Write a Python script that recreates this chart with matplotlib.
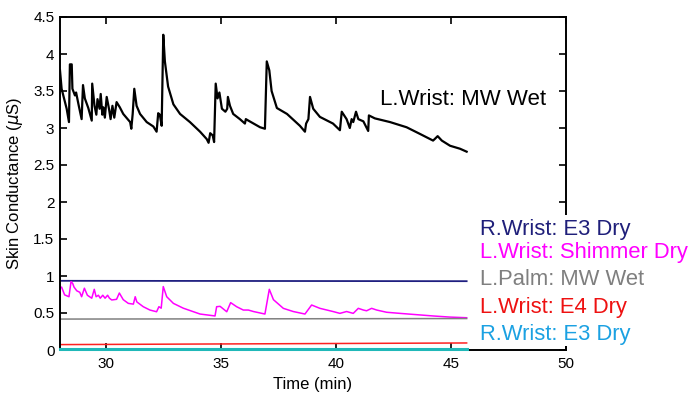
import numpy as np
import matplotlib.pyplot as plt
from matplotlib.patches import Rectangle

plt.rcParams['font.family'] = ['Liberation Sans', 'DejaVu Sans']

# L.Wrist: MW Wet (black)
t_mw = [28.0, 28.07, 28.29, 28.39, 28.43, 28.51, 28.54, 28.65, 28.7, 28.81, 28.94, 29.0,
        29.08, 29.23, 29.38, 29.4, 29.5, 29.58, 29.63, 29.72, 29.77, 29.84, 29.88, 29.95,
        30.03, 30.13, 30.2, 30.28, 30.36, 30.46, 30.6, 30.75, 30.94, 31.05, 31.1, 31.16,
        31.23, 31.33, 31.48, 31.77, 32.06, 32.2, 32.27, 32.34, 32.42, 32.49, 32.56, 32.7,
        32.93, 33.22, 33.65, 34.09, 34.38, 34.46, 34.53, 34.64, 34.7, 34.77, 34.85, 34.93,
        35.04, 35.19, 35.27, 35.3, 35.39, 35.53, 35.82, 36.04, 36.08, 36.19, 36.7, 36.91,
        36.99, 37.1, 37.2, 37.43, 37.87, 38.43, 38.65, 38.7, 38.8, 38.87, 39.01, 39.3,
        39.87, 40.17, 40.25, 40.46, 40.6, 40.68, 40.75, 40.87, 40.97, 41.19, 41.4, 41.43,
        41.69, 42.35, 43.07, 43.65, 44.22, 44.29, 44.42, 44.6, 44.96, 45.39, 45.68]
v_mw = [3.78, 3.53, 3.26, 3.08, 3.86, 3.86, 3.53, 3.44, 3.48, 3.31, 3.12, 3.58,
        3.4, 3.27, 3.10, 3.60, 3.3, 3.18, 3.39, 3.26, 3.46, 3.18, 3.28, 3.14,
        3.42, 3.26, 3.12, 3.30, 3.14, 3.35, 3.28, 3.19, 3.12, 3.08, 2.99, 3.19,
        3.53, 3.3, 3.19, 3.08, 3.02, 2.95, 3.20, 3.18, 3.03, 4.26, 3.9, 3.56,
        3.32, 3.19, 3.08, 2.95, 2.85, 2.8, 2.93, 2.9, 2.81, 3.6, 3.4, 3.48,
        3.26, 3.22, 3.26, 3.42, 3.3, 3.19, 3.12, 3.06, 3.12, 3.1, 3.01, 2.99,
        3.9, 3.78, 3.5, 3.27, 3.19, 3.03, 2.95, 3.06, 3.12, 3.42, 3.26, 3.15,
        3.06, 2.97, 3.22, 3.12, 3.0, 3.12, 3.08, 3.22, 3.12, 3.09, 2.96, 3.17,
        3.13, 3.08, 3.01, 2.92, 2.83, 2.85, 2.89, 2.83, 2.76, 2.72, 2.68]

# L.Wrist: Shimmer Dry (magenta)
t_sh = [28.0, 28.07, 28.2, 28.39, 28.48, 28.55, 28.61, 28.73, 28.86, 28.94, 29.06, 29.19,
        29.38, 29.49, 29.57, 29.67, 29.75, 29.86, 29.96, 30.07, 30.15, 30.25, 30.46, 30.58,
        30.75, 30.97, 31.19, 31.27, 31.34, 31.62, 31.91, 32.2, 32.3, 32.4, 32.49, 32.64,
        32.93, 33.36, 34.09, 34.74, 34.81, 34.96, 35.25, 35.42, 35.68, 35.97, 36.19, 36.41,
        36.91, 37.1, 37.28, 37.71, 38.14, 38.65, 38.94, 39.3, 39.87, 40.17, 40.46, 40.75,
        40.97, 41.19, 41.33, 41.55, 41.77, 42.2, 42.78, 44.22, 44.94, 45.68]
v_sh = [0.835, 0.85, 0.745, 0.72, 0.925, 0.9, 0.85, 0.8, 0.78, 0.72, 0.835, 0.74,
        0.70, 0.82, 0.72, 0.74, 0.70, 0.74, 0.70, 0.74, 0.70, 0.676, 0.685, 0.77,
        0.68, 0.63, 0.62, 0.72, 0.65, 0.585, 0.54, 0.517, 0.585, 0.565, 0.857, 0.72,
        0.63, 0.565, 0.486, 0.46, 0.585, 0.59, 0.517, 0.64, 0.585, 0.54, 0.54, 0.52,
        0.486, 0.82, 0.68, 0.563, 0.52, 0.486, 0.608, 0.563, 0.52, 0.495, 0.52, 0.495,
        0.563, 0.54, 0.53, 0.563, 0.54, 0.51, 0.495, 0.46, 0.445, 0.436]

# flat channels: start / end values
t_flat = [28.0, 45.68]
v_e3_left = [0.935, 0.93]     # R.Wrist: E3 Dry (navy)
v_palm = [0.418, 0.425]       # L.Palm: MW Wet (grey)
v_e4 = [0.073, 0.095]         # L.Wrist: E4 Dry (red)
v_e3_right = [0.01, 0.01]     # R.Wrist: E3 Dry (cyan)

labels = ['R.Wrist: E3 Dry', 'L.Wrist: Shimmer Dry', 'L.Palm: MW Wet',
          'L.Wrist: E4 Dry', 'R.Wrist: E3 Dry']
label_y = [1.56, 1.243, 0.88, 0.495, 0.132]
label_colors = ['#1f1f7a', '#ff00ff', '#7f7f7f', '#ee1111', '#1ba1e2']

fig = plt.figure(figsize=(6.89, 3.98), dpi=100)
ax = fig.add_axes([60 / 689, 1 - 350 / 398, 506 / 689, 333 / 398])

ax.plot(t_mw, v_mw, color='black', lw=1.6)
ax.plot(t_flat, v_e3_left, color='#1f1f80', lw=1.3)
ax.plot(t_sh, v_sh, color='#ff00ff', lw=1.1)
ax.plot(t_flat, v_palm, color='#808080', lw=1.1)
ax.plot(t_flat, v_e4, color='#ff2020', lw=1.1)
ax.plot(t_flat, v_e3_right, color='#20b8b8', lw=2.2, zorder=4, clip_on=False)

ax.set_xlim(28, 50)
ax.set_ylim(0, 4.5)
ax.set_xticks([30, 35, 40, 45, 50])
ax.set_yticks(np.arange(0, 4.51, 0.5))
ax.set_yticklabels(['0', '0.5', '1', '1.5', '2', '2.5', '3', '3.5', '4', '4.5'])
ax.tick_params(direction='in', length=5, width=1.2, labelsize=11, pad=5,
               top=True, right=True)
ax.tick_params(axis='y', pad=4)
for s in ax.spines.values():
    s.set_linewidth(1.4)

ax.set_xlabel('Time (min)', fontsize=12, labelpad=4)
ax.set_ylabel('Skin Conductance ($\\mu$S)', fontsize=12, labelpad=6)

# white block hiding lower part of the right frame behind the labels
ax.add_patch(Rectangle((0.97, 0.012), 0.06, 0.393, transform=ax.transAxes,
                       facecolor='white', edgecolor='none', clip_on=False, zorder=5))

for lab, y, c in zip(labels, label_y, label_colors):
    ax.text(46.25, y, lab, color=c, fontsize=15.8, va='baseline', ha='left',
            clip_on=False, zorder=6)
ax.text(41.9, 3.316, 'L.Wrist: MW Wet', color='black', fontsize=16,
        va='baseline', ha='left', zorder=6)

fig.savefig('out.png', dpi=100)
